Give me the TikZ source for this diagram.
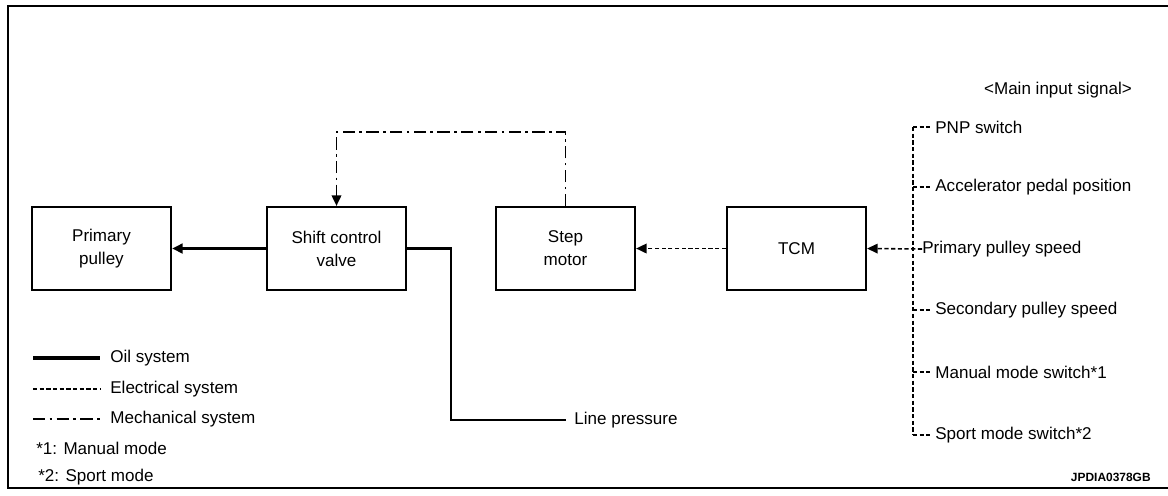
\documentclass[tikz,border=0pt]{standalone}
\usepackage{fontspec}
\setmainfont{Liberation Sans}
\usetikzlibrary{arrows.meta,positioning,calc}

\begin{document}
\begin{tikzpicture}[x=0.02cm,y=-0.02cm,
  every node/.style={font=\fontsize{9.7}{13}\selectfont},
  blk/.style={draw,line width=1.3pt,minimum width=2.78cm,minimum height=1.66cm,
    align=center,inner sep=0pt},
  lbl/.style={inner sep=0pt,anchor=west},
  oil/.style={line width=1.8pt},
  elec/.style={line width=0.9pt,dash pattern=on 2.4pt off 1.4pt},
  mech/.style={line width=0.9pt,dash pattern=on 7pt off 2.5pt on 1.5pt off 2.5pt},
  tip/.style={-{Triangle[length=6pt,width=5.5pt]}}]
 \useasboundingbox (0,0) rectangle (1168,495);
 \draw[line width=1.6pt] (1168,6) -- (8,6) -- (8,488) -- (1168,488);
 % blocks
 \node[blk] (pp)  at (101.5,248.5) {Primary\\pulley};
 \node[blk] (scv) at (336.5,248.5) {Shift control\\valve};
 \node[blk] (sm)  at (565.5,248.5) {Step\\motor};
 \node[blk] (tcm) at (796.5,248.5) {TCM};
 \node[lbl] (lp)  at (574,420) {Line pressure};
 \coordinate (lpk) at (451,420);
 \draw[oil,tip] (scv.west) -- (pp.east);
 \draw[line width=1.4pt] (scv.east) -| (lpk) -- ($(lp.west)+(-8,0)$);
 \draw[elec,tip] (tcm.west) -- (sm.east);
 \draw[mech,tip] (sm.north) -- ++(0,-74) -| (scv.north);
 % input signals
 \node (mis) at (1058,90) {<Main input signal>};
 \foreach \n/\x/\y/\t in {1/935/127/PNP switch,2/935/187/Accelerator pedal position,
   3/922/249/Primary pulley speed,4/935/310/Secondary pulley speed,
   5/935/372/Manual mode switch*1,6/935/435/Sport mode switch*2}
   \node[lbl] (s\n) at (\x,\y) {\t};
 \coordinate (bt) at (913,127);
 \coordinate (bb) at (913,435);
 \draw[elec] (bt) -- (bb);
 \foreach \n in {1,2,4,5,6}
   \draw[elec] (bt |- s\n.west) -- ($(s\n.west)+(-5,0)$);
 \draw[elec,tip] (s3.west) -- (tcm.east);
 % legend
 \foreach \i/\y/\s/\t in {1/358/oil/Oil system,2/389/elec/Electrical system,
   3/419/mech/Mechanical system}{
   \node[lbl] (lg\i) at (110,\y) {\t};
   \draw[\s] ($(lg\i.west)+(-77,0)$) -- ($(lg\i.west)+(-10,0)$);
 }
 \node[lbl] (n1) at (36,448) {*1: Manual mode};
 \node[lbl] (n2) at (38,477) {*2: Sport mode};
 \node[anchor=east,inner sep=0pt,font=\bfseries\fontsize{6.8}{8}\selectfont] (code) at (1151,477) {JPDIA0378GB};
\end{tikzpicture}
\end{document}
